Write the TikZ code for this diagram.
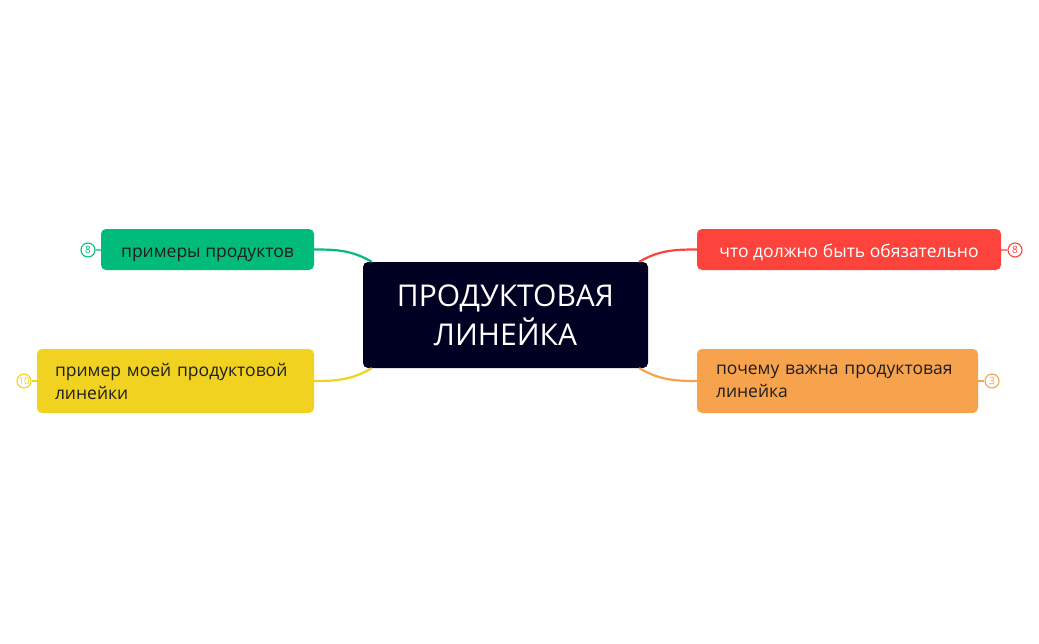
\documentclass[tikz,border=0pt]{standalone}
\usepackage{fontspec}
\setmainfont{Open Sans}
\usetikzlibrary{positioning}

\definecolor{navy}{HTML}{000022}
\definecolor{mgreen}{HTML}{00BB7A}
\definecolor{myellow}{HTML}{F2D221}
\definecolor{mred}{HTML}{FC443C}
\definecolor{morange}{HTML}{F7A24D}
\definecolor{ink}{HTML}{1E1E1E}

\begin{document}
\begin{tikzpicture}[x=1pt,y=-1pt,
    topic/.style={fill=navy, text=white, rounded corners=5pt, minimum width=285pt,
        minimum height=106pt, align=center, font=\fontsize{30}{39}\selectfont},
    branch/.style={fill=#1, rounded corners=5pt, inner sep=0pt, text=ink,
        font=\fontsize{17.5}{23}\selectfont},
    oneline/.style={text height=17pt, text depth=2pt},
    badge/.style={circle, draw=#1, fill=white, line width=1.1pt, inner sep=0pt,
        minimum size=14pt, text=#1, font=\fontsize{10}{10}\selectfont},
    link/.style={draw=#1, line width=2.2pt}]

\useasboundingbox (0,0) rectangle (1039,643);

\node [topic] (topic) at (505.5,315) {ПРОДУКТОВАЯ\\ЛИНЕЙКА};

\node [branch=mgreen, oneline, minimum width=213pt, minimum height=41pt] (examples) at (207.5,249.5) {примеры продуктов};
\node [branch=myellow, minimum width=277pt, minimum height=64pt, text width=241pt, inner xsep=18pt, align=left] (mine) at (175.5,381) {пример моей продуктовой\\линейки};
\node [branch=mred, oneline, text=white, minimum width=304pt, minimum height=41pt] (must) at (849,249.5) {что должно быть обязательно};
\node [branch=morange, minimum width=281pt, minimum height=64pt, text width=243pt, inner xsep=19pt, align=left] (why) at (837.5,381) {почему важна продуктовая\\линейка};

% connectors
\draw [link=mgreen] (examples.east) to[out=0,in=150] ([xshift=9pt]topic.north west);
\draw [link=myellow] (mine.east) to[out=0,in=210] ([xshift=9pt]topic.south west);
\draw [link=mred] (must.west) to[out=180,in=30] ([xshift=-9pt]topic.north east);
\draw [link=morange] (why.west) to[out=180,in=-30] ([xshift=-9pt]topic.south east);

% counters
\node [badge=mgreen] (n1) at (88,250) {8};
\node [badge=myellow] (n2) at (24,381) {10};
\node [badge=mred] (n3) at (1015,250) {8};
\node [badge=morange] (n4) at (992,381) {3};

\draw [mgreen, line width=1.2pt] (n1) -- (examples);
\draw [myellow, line width=1.2pt] (n2) -- (mine);
\draw [mred, line width=1.2pt] (n3) -- (must);
\draw [morange, line width=1.2pt] (n4) -- (why);

\end{tikzpicture}
\end{document}
